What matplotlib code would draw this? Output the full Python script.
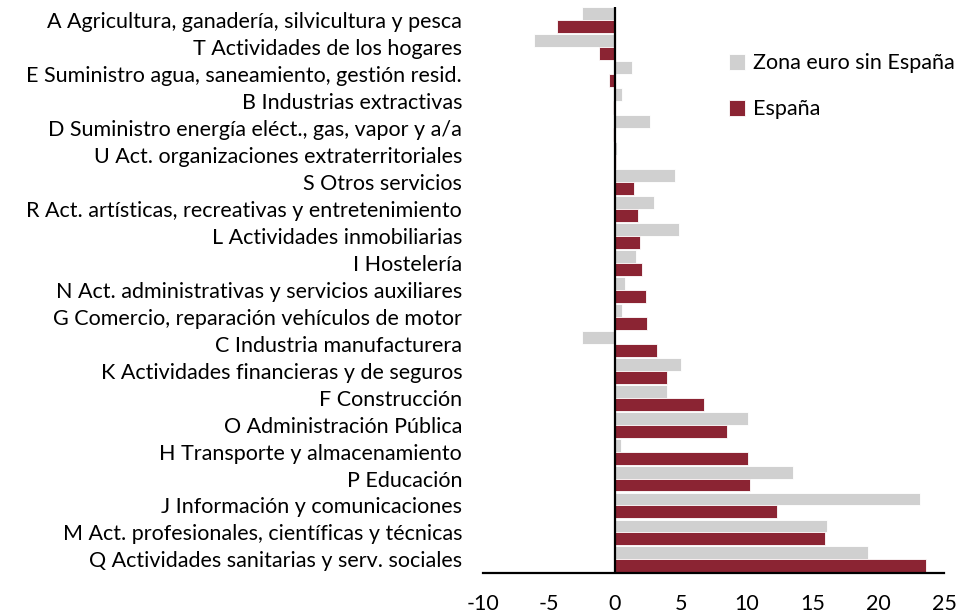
import numpy as np
import matplotlib.pyplot as plt

plt.rcParams['font.family'] = ['Lato', 'DejaVu Sans']
plt.rcParams['axes.unicode_minus'] = False

# sectores, de arriba a abajo
sectores = [
    'A Agricultura, ganadería, silvicultura y pesca',
    'T Actividades de los hogares',
    'E Suministro agua, saneamiento, gestión resid.',
    'B Industrias extractivas',
    'D Suministro energía eléct., gas, vapor y a/a',
    'U Act. organizaciones extraterritoriales',
    'S Otros servicios',
    'R Act. artísticas, recreativas y entretenimiento',
    'L Actividades inmobiliarias',
    'I Hostelería',
    'N Act. administrativas y servicios auxiliares',
    'G Comercio, reparación vehículos de motor',
    'C Industria manufacturera',
    'K Actividades financieras y de seguros',
    'F Construcción',
    'O Administración Pública',
    'H Transporte y almacenamiento',
    'P Educación',
    'J Información y comunicaciones',
    'M Act. profesionales, científicas y técnicas',
    'Q Actividades sanitarias y serv. sociales',
]
zona_euro = [-2.5, -6.1, 1.3, 0.55, 2.7, 0.15, 4.6, 2.95, 4.85, 1.6, 0.75,
             0.55, -2.5, 5.0, 3.95, 10.1, 0.45, 13.5, 23.2, 16.1, 19.2]
espana = [-4.4, -1.2, -0.45, -0.15, -0.1, 0.1, 1.45, 1.75, 1.95, 2.05, 2.35,
          2.45, 3.2, 3.95, 6.8, 8.5, 10.1, 10.25, 12.3, 15.95, 23.6]

gris = '#d0d0d0'
rojo = '#8b2433'

fig = plt.figure(figsize=(9.61, 6.16), dpi=100)
ax = fig.add_axes([0.5026, 0.070, 0.4797, 0.919])

n = len(sectores)
y = np.arange(n)[::-1]
h = 0.48
ax.barh(y + h / 2, zona_euro, height=h, color=gris, edgecolor='white',
        linewidth=0.6, label='Zona euro sin España')
ax.barh(y - h / 2, espana, height=h, color=rojo, edgecolor='white',
        linewidth=0.6, label='España')

ax.axvline(0, color='black', linewidth=1.6, zorder=3)

ax.set_xlim(-10, 25)
ax.set_ylim(-0.5, n - 0.5)
ax.set_xticks(np.arange(-10, 26, 5))
ax.set_yticks(y)
ax.set_yticklabels(sectores)
ax.tick_params(axis='y', length=0, pad=15, labelsize=15.5)
ax.tick_params(axis='x', length=0, pad=15, labelsize=15.5)

for s in ['top', 'right', 'left']:
    ax.spines[s].set_visible(False)
ax.spines['bottom'].set_linewidth(1.6)

ax.legend(loc='upper left', bbox_to_anchor=(0.515, 0.933), frameon=False,
          fontsize=15.5, handlelength=0.75, handleheight=0.75, handletextpad=0.35,
          labelspacing=1.2, borderaxespad=0)

fig.savefig('out.png', dpi=100)
